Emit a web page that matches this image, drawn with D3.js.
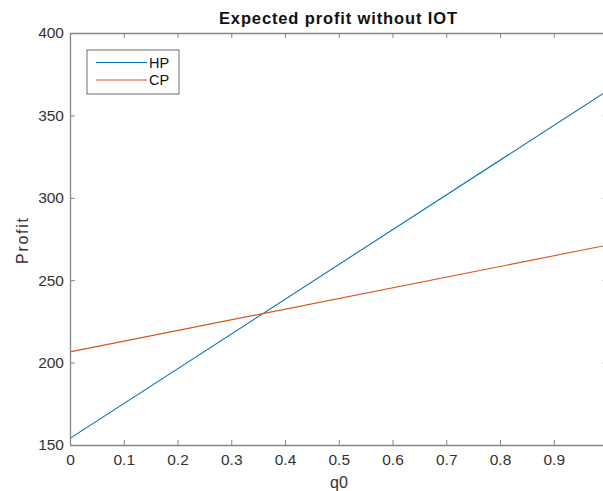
<!DOCTYPE html>
<html>
<head>
<meta charset="utf-8">
<script src="https://cdn.jsdelivr.net/npm/d3@7"></script>
<style>
  body { margin: 0; background: #fff; overflow: hidden; }
  svg { display: block; font-family: "Liberation Sans", Arial, sans-serif; }
</style>
</head>
<body>
<div id="chart"></div>
<script>
// Data
const q0 = [0, 1];
const hpProfit = [154, 365];
const cpProfit = [206.5, 271.3];
const seriesNames = ['HP', 'CP'];
const seriesColors = ['#0072BD', '#D95319'];
const xTicks = [0, 0.1, 0.2, 0.3, 0.4, 0.5, 0.6, 0.7, 0.8, 0.9];
const yTicks = [150, 200, 250, 300, 350, 400];

const width = 603;
const height = 491;
const plot = { left: 70, right: 607.5, top: 33, bottom: 445 };

const svg = d3.select('#chart')
    .append('svg')
    .attr('width', width)
    .attr('height', height);

const xScale = d3.scaleLinear().domain([0, 1]).range([plot.left, plot.right]);
const yScale = d3.scaleLinear().domain([150, 400]).range([plot.bottom, plot.top]);

const axisColor = '#858585';
const textColor = '#333';

// Lines
const series = [hpProfit, cpProfit];
const line = d3.line()
    .x((d, i) => xScale(q0[i]))
    .y((d) => yScale(d));

svg.append('g')
    .selectAll('path')
    .data(series)
    .join('path')
    .attr('d', (d) => line(d))
    .attr('fill', 'none')
    .attr('stroke', (d, i) => seriesColors[i])
    .attr('stroke-width', 1.1);

// Axes (MATLAB style box, inward ticks)
const tickLen = 5;
const styleAxis = (g) => {
    g.select('.domain').attr('stroke', axisColor).attr('stroke-width', 1.3);
    g.selectAll('.tick line').attr('stroke', axisColor);
    g.selectAll('.tick text').attr('fill', textColor).style('font-size', '15.5px');
};

svg.append('g')
    .attr('transform', `translate(0, ${plot.bottom})`)
    .call(d3.axisBottom(xScale).tickValues(xTicks).tickSizeInner(-tickLen).tickSizeOuter(0)
        .tickPadding(9).tickFormat(d3.format('')))
    .call(styleAxis);

svg.append('g')
    .attr('transform', `translate(0, ${plot.top})`)
    .call(d3.axisTop(xScale).tickValues(xTicks).tickSizeInner(-tickLen).tickSizeOuter(0).tickFormat(''))
    .call(styleAxis);

svg.append('g')
    .attr('transform', `translate(${plot.left}, 0)`)
    .call(d3.axisLeft(yScale).tickValues(yTicks).tickSizeInner(-tickLen).tickSizeOuter(0).tickPadding(6))
    .call(styleAxis);

svg.append('g')
    .attr('transform', `translate(${plot.right}, 0)`)
    .call(d3.axisRight(yScale).tickValues(yTicks).tickSizeInner(-tickLen).tickSizeOuter(0).tickFormat(''))
    .call(styleAxis);

// Title and axis labels
svg.append('text')
    .attr('x', 338)
    .attr('y', 24)
    .attr('text-anchor', 'middle')
    .attr('font-weight', 'bold')
    .attr('font-size', 16.5)
    .attr('textLength', 238)
    .attr('fill', '#111')
    .text('Expected profit without IOT');

svg.append('text')
    .attr('x', 339)
    .attr('y', 488)
    .attr('text-anchor', 'middle')
    .attr('font-size', 16)
    .attr('fill', textColor)
    .text('q0');

svg.append('text')
    .attr('transform', 'translate(28, 241) rotate(-90)')
    .attr('text-anchor', 'middle')
    .attr('font-size', 16)
    .attr('textLength', 46)
    .attr('fill', textColor)
    .text('Profit');

// Legend
const legend = svg.append('g').attr('transform', 'translate(87, 50)');
legend.append('rect')
    .attr('width', 92)
    .attr('height', 44)
    .attr('fill', '#fff')
    .attr('stroke', axisColor)
    .attr('stroke-width', 1.2);

const items = legend.selectAll('g.item')
    .data(seriesNames)
    .join('g')
    .attr('class', 'item')
    .attr('transform', (d, i) => `translate(0, ${12.5 + i * 17.5})`);

items.append('line')
    .attr('x1', 9).attr('x2', 60)
    .attr('stroke', (d, i) => seriesColors[i])
    .attr('stroke-width', 1.1);

items.append('text')
    .attr('x', 62)
    .attr('dy', '0.36em')
    .attr('font-size', 14.5)
    .attr('fill', '#111')
    .text((d) => d);
</script>
</body>
</html>
